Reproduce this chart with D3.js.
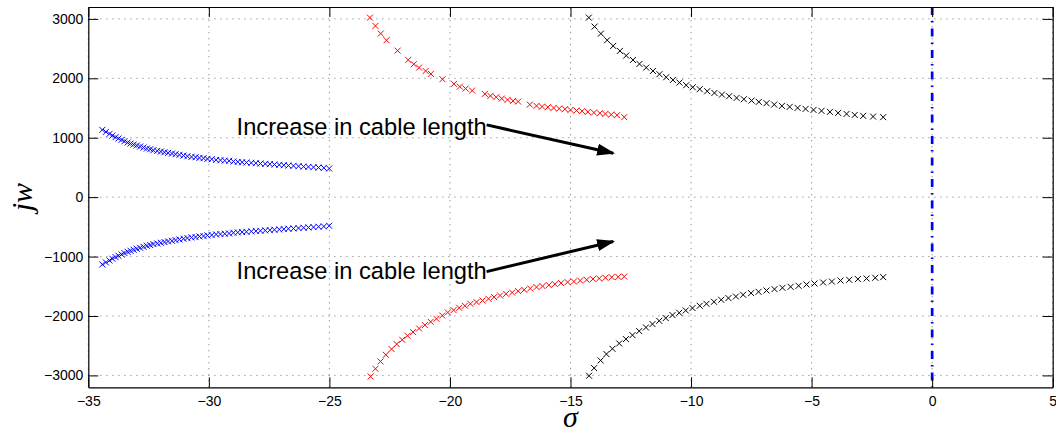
<!DOCTYPE html>
<html>
<head>
<meta charset="UTF-8">
<script src="https://d3js.org/d3.v7.min.js"></script>
<style>
  body { margin: 0; background: #fff; }
  text { font-family: "Liberation Sans", Arial, sans-serif; }
  .grid line { stroke: #888; stroke-width: 1; stroke-dasharray: 1.2,4.8; }
</style>
</head>
<body>
<svg id="chart"></svg>
<script>
// ---- data ----
var xTicks = [-35, -30, -25, -20, -15, -10, -5, 0, 5];
var yTicks = [-3000, -2000, -1000, 0, 1000, 2000, 3000];

var blueUpX = [-34.42,-34.27,-34.12,-34.00,-33.87,-33.75,-33.62,-33.50,-33.37,-33.25,-33.12,-32.99,-32.85,-32.71,-32.57,-32.43,-32.30,-32.14,-31.99,-31.84,-31.69,-31.53,-31.38,-31.22,-31.05,-30.89,-30.72,-30.55,-30.39,-30.22,-30.06,-29.88,-29.70,-29.52,-29.34,-29.16,-28.98,-28.80,-28.62,-28.44,-28.24,-28.05,-27.86,-27.66,-27.47,-27.28,-27.08,-26.89,-26.70,-26.49,-26.28,-26.07,-25.87,-25.66,-25.45,-25.23,-25.01];
var blueUpY = [1132,1098,1065,1037,1009,986,964,941,919,902,885,869,852,835,818,807,790,779,768,756,745,734,723,712,700,689,678,672,661,655,644,639,627,622,616,611,599,594,588,583,577,571,566,560,555,549,543,538,532,527,521,515,510,504,498,493,482];
var blueLoX = [-34.42,-34.27,-34.12,-34.00,-33.87,-33.75,-33.62,-33.50,-33.37,-33.25,-33.12,-32.99,-32.85,-32.71,-32.57,-32.43,-32.30,-32.14,-31.99,-31.84,-31.69,-31.53,-31.38,-31.22,-31.05,-30.89,-30.72,-30.55,-30.39,-30.22,-30.06,-29.88,-29.70,-29.52,-29.34,-29.16,-28.98,-28.80,-28.62,-28.44,-28.24,-28.05,-27.86,-27.66,-27.47,-27.28,-27.08,-26.89,-26.70,-26.49,-26.28,-26.07,-25.87,-25.66,-25.45,-25.23,-25.01];
var blueLoY = [-1132,-1098,-1065,-1037,-1009,-986,-964,-941,-919,-902,-885,-869,-852,-835,-818,-807,-790,-779,-768,-756,-745,-734,-723,-712,-700,-689,-678,-672,-661,-655,-644,-639,-627,-622,-616,-611,-599,-594,-588,-583,-577,-571,-566,-560,-555,-549,-543,-538,-532,-527,-521,-515,-510,-504,-498,-493,-482];

var redUpX = [-23.32,-23.09,-22.87,-22.63,-22.17,-21.73,-21.50,-21.28,-21.01,-20.79,-20.31,-19.83,-19.59,-19.35,-19.08,-18.55,-18.32,-18.08,-17.85,-17.61,-17.38,-17.17,-16.69,-16.41,-16.18,-15.94,-15.70,-15.47,-15.23,-15.00,-14.75,-14.52,-14.28,-14.03,-13.78,-13.55,-13.31,-13.07,-12.77];
var redUpY = [3021,2881,2752,2641,2466,2310,2237,2180,2124,2074,1985,1906,1860,1827,1793,1738,1704,1682,1659,1637,1620,1608,1558,1536,1524,1514,1502,1490,1480,1468,1457,1447,1435,1423,1413,1401,1389,1379,1346];
var redLoX = [-23.29,-23.09,-22.88,-22.66,-22.42,-22.21,-21.98,-21.76,-21.53,-21.28,-21.04,-20.80,-20.56,-20.32,-20.09,-19.85,-19.62,-19.38,-19.15,-18.90,-18.65,-18.40,-18.17,-17.92,-17.67,-17.42,-17.17,-16.92,-16.67,-16.41,-16.16,-15.90,-15.65,-15.39,-15.12,-14.86,-14.60,-14.33,-14.07,-13.81,-13.55,-13.29,-13.02,-12.77];
var redLoY = [-3018,-2888,-2765,-2653,-2557,-2473,-2400,-2333,-2271,-2210,-2153,-2098,-2047,-1992,-1941,-1901,-1862,-1828,-1795,-1766,-1739,-1711,-1682,-1655,-1627,-1605,-1581,-1559,-1537,-1514,-1497,-1480,-1463,-1447,-1430,-1420,-1403,-1391,-1379,-1369,-1357,-1346,-1341,-1336];

var blackUpX = [-14.24,-14.00,-13.74,-13.48,-13.23,-12.95,-12.69,-12.41,-12.14,-11.86,-11.58,-11.31,-11.03,-10.75,-10.48,-10.20,-9.93,-9.64,-9.33,-9.03,-8.72,-8.42,-8.11,-7.81,-7.49,-7.19,-6.87,-6.55,-6.23,-5.91,-5.58,-5.25,-4.92,-4.59,-4.24,-3.90,-3.55,-3.21,-2.86,-2.45,-2.03];
var blackUpY = [3021,2870,2752,2641,2545,2461,2382,2309,2242,2180,2124,2069,2018,1973,1928,1884,1850,1817,1783,1754,1726,1699,1670,1648,1625,1603,1581,1558,1536,1519,1502,1485,1468,1452,1435,1418,1401,1384,1368,1356,1346];
var blackLoX = [-14.23,-14.02,-13.75,-13.51,-13.26,-12.98,-12.70,-12.43,-12.15,-11.87,-11.60,-11.32,-11.05,-10.77,-10.49,-10.22,-9.94,-9.64,-9.36,-9.05,-8.75,-8.45,-8.14,-7.84,-7.51,-7.20,-6.87,-6.54,-6.21,-5.87,-5.54,-5.21,-4.88,-4.52,-4.16,-3.80,-3.44,-3.08,-2.72,-2.36,-2.03];
var blackLoY = [-3006,-2877,-2748,-2641,-2552,-2462,-2389,-2322,-2254,-2193,-2136,-2081,-2035,-1985,-1946,-1907,-1867,-1828,-1795,-1761,-1727,-1699,-1672,-1643,-1615,-1593,-1571,-1548,-1526,-1509,-1492,-1470,-1453,-1436,-1420,-1403,-1391,-1379,-1369,-1357,-1346];

var notes = ["Increase in cable length", "Increase in cable length"];
var noteX = [-28.85, -28.85];
var noteY = [1048, -1379];
var arrowFrom = [[-18.48, 1216], [-18.48, -1253]];
var arrowTo = [[-13.23, 740], [-13.23, -746]];

// ---- drawing ----
var width = 1056, height = 433;
var svg = d3.select("#chart").attr("width", width).attr("height", height);

var x = d3.scaleLinear().domain([-35, 5]).range([88.3, 1052.7]);
var y = d3.scaleLinear().domain([-3200, 3200]).range([387.3, 7]);

// dotted grid
var grid = svg.append("g").attr("class", "grid");
grid.selectAll(".gx").data(xTicks).enter().append("line")
    .attr("x1", d => x(d)).attr("x2", d => x(d))
    .attr("y1", y.range()[0]).attr("y2", y.range()[1]);
grid.selectAll(".gy").data(yTicks).enter().append("line")
    .attr("y1", d => y(d)).attr("y2", d => y(d))
    .attr("x1", x.range()[0]).attr("x2", x.range()[1]);

// zero line, blue dash-dot
svg.append("line")
    .attr("x1", x(0)).attr("x2", x(0))
    .attr("y1", y.range()[1]).attr("y2", y.range()[0])
    .attr("stroke", "#0000ff").attr("stroke-width", 2.7)
    .attr("stroke-dasharray", "8,6,1.5,6");

// markers
function drawSeries(xs, ys, color) {
    svg.append("g").selectAll("path")
        .data(xs.map((d, i) => [d, ys[i]]))
        .enter().append("path")
        .attr("transform", d => `translate(${x(d[0])},${y(d[1])})`)
        .attr("d", "M-3,-3L3,3M-3,3L3,-3")
        .attr("stroke", color).attr("stroke-width", 1).attr("fill", "none");
}
drawSeries(blueUpX, blueUpY, "#0000ff");
drawSeries(blueLoX, blueLoY, "#0000ff");
drawSeries(redUpX, redUpY, "#ff0000");
drawSeries(redLoX, redLoY, "#ff0000");
drawSeries(blackUpX, blackUpY, "#000");
drawSeries(blackLoX, blackLoY, "#000");

// axes, ticks pointing inward (matlab style)
var fmt = d => d3.format("d")(d).replace("-", "\u2212");
function styleAxis(g) {
    g.selectAll(".domain").attr("stroke", "#000").attr("stroke-width", 1.2);
    g.selectAll(".tick line").attr("stroke", "#000");
    g.selectAll("text").attr("fill", "#000").style("font-size", "14px")
        .style("font-family", "'Liberation Sans', Arial, sans-serif");
}
svg.append("g").attr("transform", `translate(0,${y.range()[0]})`)
    .call(d3.axisBottom(x).tickValues(xTicks).tickFormat(fmt).tickSizeInner(-10).tickSizeOuter(0).tickPadding(9))
    .call(styleAxis);
svg.append("g").attr("transform", `translate(0,${y.range()[1]})`)
    .call(d3.axisTop(x).tickValues(xTicks).tickFormat("").tickSizeInner(-10).tickSizeOuter(0))
    .call(styleAxis);
svg.append("g").attr("transform", `translate(${x.range()[0]},0)`)
    .call(d3.axisLeft(y).tickValues(yTicks).tickFormat(fmt).tickSizeInner(-10).tickSizeOuter(0).tickPadding(5))
    .call(styleAxis);
svg.append("g").attr("transform", `translate(${x.range()[1]},0)`)
    .call(d3.axisRight(y).tickValues(yTicks).tickFormat("").tickSizeInner(-10).tickSizeOuter(0))
    .call(styleAxis);

// axis labels
svg.append("text")
    .attr("x", (x.range()[0] + x.range()[1]) / 2).attr("y", 427)
    .attr("text-anchor", "middle")
    .style("font-family", "'Liberation Serif', 'DejaVu Serif', serif")
    .style("font-style", "italic").style("font-size", "30px")
    .text("\u03c3");
svg.append("text")
    .attr("transform", `translate(32,${y(0)}) rotate(-90)`)
    .attr("text-anchor", "middle")
    .style("font-family", "'Liberation Serif', 'DejaVu Serif', serif")
    .style("font-style", "italic").style("font-size", "30px")
    .text("jw");

// annotations
svg.append("defs").append("marker")
    .attr("id", "head").attr("markerUnits", "userSpaceOnUse")
    .attr("viewBox", "0 -7 18 14").attr("refX", 16).attr("refY", 0)
    .attr("markerWidth", 18).attr("markerHeight", 14).attr("orient", "auto")
    .append("path").attr("d", "M0,-6L18,0L0,6Z").attr("fill", "#000");

svg.append("g").selectAll("line").data(arrowFrom).enter().append("line")
    .attr("x1", d => x(d[0])).attr("y1", d => y(d[1]))
    .attr("x2", (d, i) => x(arrowTo[i][0])).attr("y2", (d, i) => y(arrowTo[i][1]))
    .attr("stroke", "#000").attr("stroke-width", 3)
    .attr("marker-end", "url(#head)");

svg.append("g").selectAll("text").data(notes).enter().append("text")
    .attr("x", (d, i) => x(noteX[i])).attr("y", (d, i) => y(noteY[i]))
    .style("font-size", "23.7px").attr("fill", "#000")
    .text(d => d);
</script>
</body>
</html>
